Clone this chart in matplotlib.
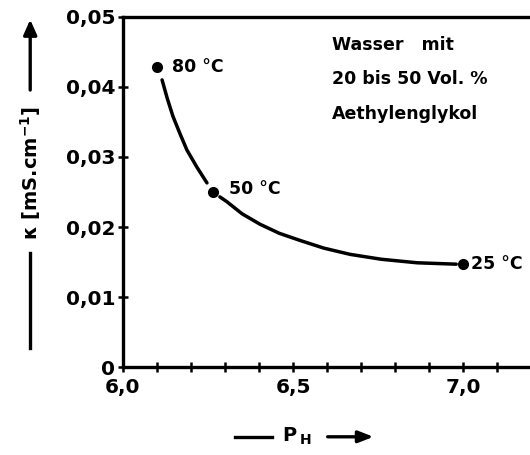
import matplotlib
matplotlib.use("Agg")
import matplotlib.pyplot as plt
from matplotlib.ticker import MultipleLocator, FixedLocator

# measured points (pH, conductivity mS/cm)
ph_pts = [6.10, 6.265, 7.0]
kappa_pts = [0.0429, 0.0250, 0.0147]
temp_labels = ["80 °C", "50 °C", "25 °C"]

# drawn curve (gaps near the dots)
curve1_x = [6.115, 6.13, 6.147, 6.167, 6.188, 6.218, 6.247]
curve1_y = [0.0410, 0.0384, 0.0358, 0.0334, 0.0310, 0.0285, 0.0263]
curve2_x = [6.285, 6.306, 6.35, 6.403, 6.46, 6.52, 6.59, 6.668, 6.76, 6.865, 6.98]
curve2_y = [0.0243, 0.0236, 0.0219, 0.0204, 0.0191, 0.0181, 0.0170, 0.0161, 0.0154, 0.0149, 0.0147]

y_ticks = [0, 0.01, 0.02, 0.03, 0.04, 0.05]
y_ticklabels = ["0", "0,01", "0,02", "0,03", "0,04", "0,05"]
x_major = [6.0, 6.5, 7.0]
x_ticklabels = ["6,0", "6,5", "7,0"]

note_lines = ["Wasser   mit", "20 bis 50 Vol. %", "Aethylenglykol"]

plt.rcParams["font.family"] = "DejaVu Sans"
plt.rcParams["font.weight"] = "bold"

fig = plt.figure(figsize=(5.3, 4.55), dpi=100)
ax = fig.add_axes([0.232, 0.193, 0.77, 0.77])

ax.plot(curve1_x, curve1_y, color="black", lw=2.5, solid_capstyle="round",
        solid_joinstyle="round")
ax.plot(curve2_x, curve2_y, color="black", lw=2.5, solid_capstyle="round",
        solid_joinstyle="round")
ax.plot(ph_pts, kappa_pts, "o", color="black", ms=7)

offsets = [(0.045, 0.0), (0.047, 0.0005), (0.022, 0.0)]
for x, y, t, (dx, dy) in zip(ph_pts, kappa_pts, temp_labels, offsets):
    ax.text(x + dx, y + dy, t, fontsize=12.5, fontweight="heavy", va="center", ha="left")

for i, line in enumerate(note_lines):
    ax.text(6.615, 0.0460 - i * 0.0049, line, fontsize=12.5, fontweight="heavy",
            va="center", ha="left")

ax.set_xlim(6.0, 7.2)
ax.set_ylim(0, 0.05)
ax.spines["right"].set_visible(False)
for s in ["left", "bottom", "top"]:
    ax.spines[s].set_linewidth(2.4)

ax.yaxis.set_major_locator(FixedLocator(y_ticks))
ax.set_yticklabels(y_ticklabels)
ax.xaxis.set_major_locator(FixedLocator(x_major))
ax.set_xticklabels(x_ticklabels)
ax.xaxis.set_minor_locator(MultipleLocator(0.1))
ax.tick_params(axis="both", which="both", direction="inout", length=7, width=1.8,
               labelsize=14.5, pad=2)
ax.tick_params(axis="x", which="major", pad=4)
ax.tick_params(top=False, right=False)
for lab in ax.get_xticklabels() + ax.get_yticklabels():
    lab.set_fontweight("heavy")

# y axis label with arrow
fig.text(0.057, 0.62, "κ [mS.cm$^{\\mathbf{-1}}$]", rotation=90, fontsize=14,
         fontweight="heavy", ha="center", va="center")
fig.add_artist(plt.Line2D([0.057, 0.057], [0.235, 0.444], color="black", lw=2.4,
                          transform=fig.transFigure))
fig.add_artist(matplotlib.patches.FancyArrowPatch((0.057, 0.796), (0.057, 0.963),
               transform=fig.transFigure, arrowstyle="-|>,head_length=9,head_width=4",
               color="black", lw=2.4))

# x axis label with arrow
fig.add_artist(plt.Line2D([0.443, 0.513], [0.04, 0.04], color="black", lw=2.4,
                          transform=fig.transFigure))
fig.text(0.532, 0.042, "P", fontsize=14, fontweight="heavy", ha="left", va="center")
fig.text(0.566, 0.034, "H", fontsize=10, fontweight="heavy", ha="left", va="center")
fig.add_artist(matplotlib.patches.FancyArrowPatch((0.613, 0.04), (0.71, 0.04),
               transform=fig.transFigure, arrowstyle="-|>,head_length=9,head_width=3.5",
               color="black", lw=2.4))

fig.savefig("out.png", dpi=100)
